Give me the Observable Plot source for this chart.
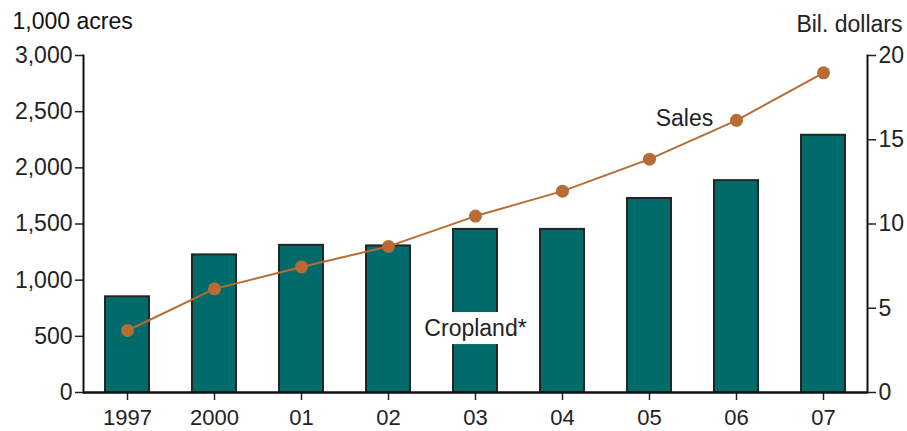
<!DOCTYPE html>
<html>
<head>
<meta charset="utf-8">
<script src="https://cdn.jsdelivr.net/npm/d3@7"></script>
<script src="https://cdn.jsdelivr.net/npm/@observablehq/plot@0.6"></script>
<style>
  html, body { margin: 0; padding: 0; background: #fff; }
</style>
</head>
<body>
<div id="chart"></div>
<script>
const years = ["1997", "2000", "01", "02", "03", "04", "05", "06", "07"];
const cropland = [852, 1225, 1310, 1305, 1452, 1452, 1727, 1886, 2290]; // 1,000 acres
const sales = [3.68, 6.15, 7.45, 8.67, 10.47, 11.95, 13.85, 16.15, 18.97]; // billion dollars
const leftTicks = [0, 500, 1000, 1500, 2000, 2500, 3000];
const rightTicks = [0, 5, 10, 15, 20];

const ratio = 3000 / 20;
const data = years.map((y, i) => ({year: y, acres: cropland[i], sales: sales[i]}));

const ink = "#222";
const fs = 23;
const plot = Plot.plot({
  width: 907,
  height: 431,
  marginLeft: 83,
  marginRight: 40,
  marginTop: 55,
  marginBottom: 39,
  style: {fontSize: fs + "px", fontFamily: "Liberation Sans, Arial, sans-serif", color: ink, background: "#fff"},
  x: {domain: years, paddingInner: 0.5, paddingOuter: 0.25, label: null},
  y: {domain: [0, 3000], label: null},
  marks: [
    Plot.barY(data, {x: "year", y: "acres", fill: "#006b6b", stroke: "#252525", strokeWidth: 2, inset: 0}),
    Plot.text(["Cropland*"], {x: () => "03", y: () => 568, text: d => d, fill: ink, fontSize: fs, className: "crop-label"}),
    Plot.line(data, {x: "year", y: d => d.sales * ratio, stroke: "#b86b32", strokeWidth: 2}),
    Plot.dot(data, {x: "year", y: d => d.sales * ratio, r: 6.5, fill: "#b86b32"}),
    Plot.text(["Sales"], {x: () => "06", y: () => 2440, dx: -52, text: d => d, fill: ink, fontSize: fs}),
    Plot.axisY({anchor: "left", ticks: leftTicks, tickFormat: d3.format(","), tickSize: 8, tickPadding: 3, strokeWidth: 1.5, fontSize: fs, label: null}),
    Plot.axisY({anchor: "right", ticks: rightTicks.map(v => v * ratio), tickFormat: d => String(d / ratio), tickSize: 8, tickPadding: 3, strokeWidth: 1.5, fontSize: fs, label: null}),
    Plot.axisX({anchor: "bottom", tickSize: 8, tickPadding: 9, strokeWidth: 1.5, fontSize: 22, label: null}),
    Plot.ruleY([0], {stroke: "#111", strokeWidth: 2.5}),
    Plot.frame({anchor: "left", stroke: "#111", strokeWidth: 2}),
    Plot.frame({anchor: "right", stroke: "#111", strokeWidth: 2}),
    Plot.text(["1,000 acres"], {frameAnchor: "top-left", dx: -71, dy: -43, textAnchor: "start", text: d => d, fill: "#111", fontSize: fs}),
    Plot.text(["Bil. dollars"], {frameAnchor: "top-right", dx: 35, dy: -40, textAnchor: "end", text: d => d, fill: ink, fontSize: fs})
  ]
});
document.getElementById("chart").appendChild(plot);

// white box behind the "Cropland*" label
const g = plot.querySelector("g.crop-label");
if (g) {
  const t = g.querySelector("text");
  const b = t.getBBox();
  const ns = "http://www.w3.org/2000/svg";
  const r = document.createElementNS(ns, "rect");
  const padX = 8, padY = 3;
  r.setAttribute("x", b.x - padX);
  r.setAttribute("y", b.y - padY);
  r.setAttribute("width", b.width + 2 * padX);
  r.setAttribute("height", b.height + 2 * padY);
  r.setAttribute("fill", "#fff");
  const tr = t.getAttribute("transform");
  if (tr) r.setAttribute("transform", tr);
  t.parentNode.insertBefore(r, t);
}
</script>
</body>
</html>
